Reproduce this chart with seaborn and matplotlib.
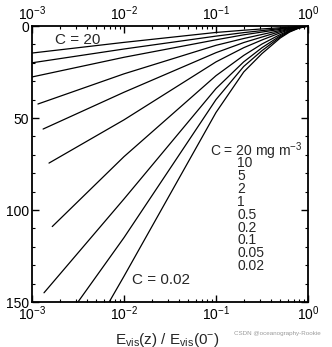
import matplotlib
matplotlib.use("Agg")
import matplotlib.pyplot as plt
import matplotlib.ticker as mticker
import numpy as np
import pandas as pd
import seaborn as sns

# Chlorophyll concentrations (mg m^-3), one irradiance profile each
chl = [20, 10, 5, 2, 1, 0.5, 0.2, 0.1, 0.05, 0.02]

# Irradiance ratios E_vis(z)/E_vis(0-) at which depths are read
ratio_levels = [1.0, 0.79, 0.63, 0.5, 0.316, 0.2, 0.1, 0.01]

# Depth (m) at each ratio level, per concentration
depth_c20 = [0, 0.3, 0.6, 0.95, 1.6, 2.3, 3.5, 8.9]
depth_c10 = [0, 0.4, 0.9, 1.4, 2.5, 3.6, 5.5, 12.5]
depth_c5 = [0, 0.5, 1.1, 1.8, 3.3, 4.8, 7.5, 17]
depth_c2 = [0, 0.6, 1.4, 2.4, 4.6, 6.8, 10.5, 26]
depth_c1 = [0, 0.7, 1.7, 3.0, 6.0, 9.0, 14.5, 36]
depth_c05 = [0, 0.8, 2.0, 3.7, 7.6, 11.8, 19.5, 51]
depth_c02 = [0, 0.9, 2.4, 4.6, 9.8, 16, 27, 71]
depth_c01 = [0, 1.0, 2.7, 5.3, 11.8, 19.5, 34, 94]
depth_c005 = [0, 1.1, 3.0, 5.9, 13.4, 22, 40, 115]
depth_c002 = [0, 1.2, 3.3, 6.5, 15, 25, 47, 136]

# Deepest point of each profile
end_ratio = [1e-3, 1e-3, 1e-3, 1.16e-3, 1.32e-3, 1.53e-3, 1.66e-3, 1.35e-3, 3.16e-3, 6.9e-3]
end_depth = [14.7, 20, 27.7, 42.4, 56, 74.5, 109, 145, 150, 150]

legend_values = ["10", "5", "2", "1", "0.5", "0.2", "0.1", "0.05", "0.02"]

profiles = [depth_c20, depth_c10, depth_c5, depth_c2, depth_c1,
            depth_c05, depth_c02, depth_c01, depth_c005, depth_c002]

rows = []
for c, depths, er, ed in zip(chl, profiles, end_ratio, end_depth):
    for r, d in zip(ratio_levels, depths):
        rows.append({"C": c, "E": r, "z": d})
    rows.append({"C": c, "E": er, "z": ed})
df = pd.DataFrame(rows)

sns.set_theme(style="ticks")
plt.rcParams["font.family"] = ["Liberation Sans", "DejaVu Sans"]
plt.rcParams["mathtext.default"] = "regular"
plt.rcParams["mathtext.fontset"] = "custom"
plt.rcParams["mathtext.rm"] = "Liberation Sans"
plt.rcParams["mathtext.it"] = "Liberation Sans"

fig = plt.figure(figsize=(3.32, 3.47), dpi=100)
ax = fig.add_axes([32 / 332, 1 - 302 / 347, 276 / 332, 276 / 347])

sns.lineplot(data=df, x="E", y="z", units="C", estimator=None, sort=False,
             color="black", lw=0.9, ax=ax)

ax.set_xscale("log")
ax.set_xlim(1e-3, 1)
ax.set_ylim(150, 0)
ax.set_xlabel("")
ax.set_ylabel("")

ax.xaxis.set_major_locator(mticker.LogLocator(base=10, numticks=10))
ax.xaxis.set_minor_locator(mticker.LogLocator(base=10, subs=np.arange(2, 10), numticks=20))
ax.yaxis.set_major_locator(mticker.MultipleLocator(50))
ax.yaxis.set_minor_locator(mticker.MultipleLocator(10))

ax.tick_params(which="both", direction="in", top=True, right=True,
               labeltop=True, labelbottom=True, labelsize=10, colors="black",
               pad=2)
ax.tick_params(which="major", length=5, width=1)
ax.tick_params(which="minor", length=2.5, width=0.8)
for s in ax.spines.values():
    s.set_linewidth(1.3)
    s.set_color("black")

ax.text(1.8e-3, 7.5, "C = 20", fontsize=11, ha="left", va="center")
ax.text(1.22e-2, 138, "C = 0.02", fontsize=11, ha="left", va="center")
ax.text(210 / 332, 1 - 151 / 347, "C = 20 mg m$^{-3}$", transform=fig.transFigure,
        fontsize=10, ha="left", va="center")
for i, v in enumerate(legend_values):
    ax.text(237 / 332, 1 - (163.5 + i * 12.8) / 347, v, transform=fig.transFigure,
            fontsize=10, ha="left", va="center")

fig.text(167 / 332, 1 - 340 / 347, "E$_{vis}$(z) / E$_{vis}$(0$^{-}$)",
         fontsize=11, ha="center", va="center")
fig.text(277 / 332, 1 - 333 / 347, "CSDN @oceanography-Rookie",
         fontsize=4.5, color="#9a9a9a", ha="center", va="center")

fig.savefig("out.png", dpi=100)
